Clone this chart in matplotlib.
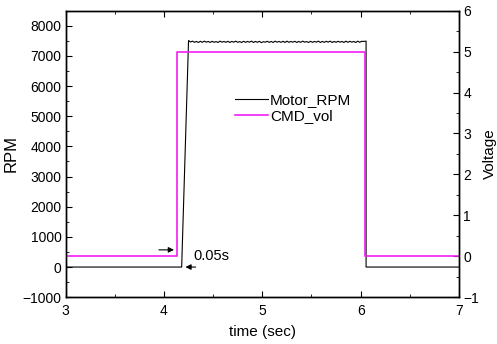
import matplotlib
matplotlib.use("Agg")
import matplotlib.pyplot as plt
from matplotlib.ticker import MultipleLocator
import numpy as np

plt.rcParams['font.family'] = ['Liberation Sans', 'DejaVu Sans']

# motor speed (RPM)
rise_t = [3.0, 4.18]
rise_rpm = [0, 0]
plateau_start, plateau_step = 4.25, 0.02
plateau_rpm = [7510, 7460, 7490, 7450, 7480, 7445, 7485, 7450, 7490, 7455,
               7480, 7445, 7485, 7450, 7475, 7445, 7490, 7455, 7480, 7450,
               7485, 7445, 7480, 7455, 7490, 7450, 7475, 7445, 7485, 7450,
               7480, 7455, 7490, 7445, 7480, 7450, 7485, 7440, 7470, 7455,
               7485, 7450, 7480, 7445, 7490, 7455, 7480, 7450, 7485, 7445,
               7490, 7450, 7480, 7455, 7485, 7445, 7480, 7450, 7490, 7455,
               7475, 7445, 7485, 7450, 7480, 7455, 7490, 7445, 7480, 7450,
               7485, 7455, 7490, 7445, 7480, 7450, 7485, 7455, 7480, 7445,
               7490, 7450, 7485, 7455, 7480, 7445, 7490, 7450, 7485, 7480,
               7490]
fall_t = [6.055, 6.055, 7.0]
fall_rpm = [7490, 0, 0]

# command voltage
cmd_t = [3.0, 4.13, 4.13, 6.045, 6.045, 7.0]
cmd_v = [0, 0, 5, 5, 0, 0]

plateau_t = plateau_start + plateau_step * np.arange(len(plateau_rpm))
plateau_t[-1] = 6.055
motor_t = np.concatenate([rise_t, plateau_t, fall_t])
motor_rpm = np.concatenate([rise_rpm, plateau_rpm, fall_rpm])

fig = plt.figure(figsize=(4.97, 3.44), dpi=100)
ax = fig.add_axes([0.132, 0.136, 0.7916, 0.833])
ax2 = ax.twinx()

l1, = ax.plot(motor_t, motor_rpm, color='black', lw=0.8)
l2, = ax2.plot(cmd_t, cmd_v, color='#f21ef2', lw=1.2)

ax.set_xlim(3, 7)
ax.set_ylim(-1000, 8500)
ax2.set_ylim(-1, 6)

ax.xaxis.set_major_locator(MultipleLocator(1))
ax.xaxis.set_minor_locator(MultipleLocator(0.5))
ax.yaxis.set_major_locator(MultipleLocator(1000))
ax.yaxis.set_minor_locator(MultipleLocator(500))
ax2.yaxis.set_major_locator(MultipleLocator(1))
ax2.yaxis.set_minor_locator(MultipleLocator(0.5))

ax.tick_params(which='both', direction='in', top=True, labelsize=10, pad=3)
ax.tick_params(axis='x', pad=5)
ax.tick_params(which='major', length=4)
ax.tick_params(which='minor', length=2)
ax2.tick_params(which='both', direction='in', labelsize=10, pad=3)
ax2.tick_params(which='major', length=4)
ax2.tick_params(which='minor', length=2)

for a in (ax, ax2):
    for s in a.spines.values():
        s.set_linewidth(1.0)

ax.set_xlabel('time (sec)', fontsize=11, labelpad=5)
ax.set_ylabel('RPM', fontsize=12, labelpad=3)
ax2.set_ylabel('Voltage', fontsize=11, labelpad=3)

ax.legend([l1, l2], ['Motor_RPM', 'CMD_vol'], loc='upper left',
          bbox_to_anchor=(0.43, 0.712), frameon=False, fontsize=11,
          handlelength=2.2, handletextpad=0.1, labelspacing=0.15,
          borderpad=0, borderaxespad=0)

# delay annotation
ax.annotate('', xy=(4.13, 570), xytext=(3.92, 570),
            arrowprops=dict(arrowstyle='-|>', color='black', lw=0.8,
                            mutation_scale=8))
ax.annotate('', xy=(4.19, 0), xytext=(4.35, 0),
            arrowprops=dict(arrowstyle='-|>', color='black', lw=0.8,
                            mutation_scale=8))
ax.text(4.3, 350, '0.05s', fontsize=10.5, va='center', ha='left')

fig.savefig('out.png', dpi=100)
